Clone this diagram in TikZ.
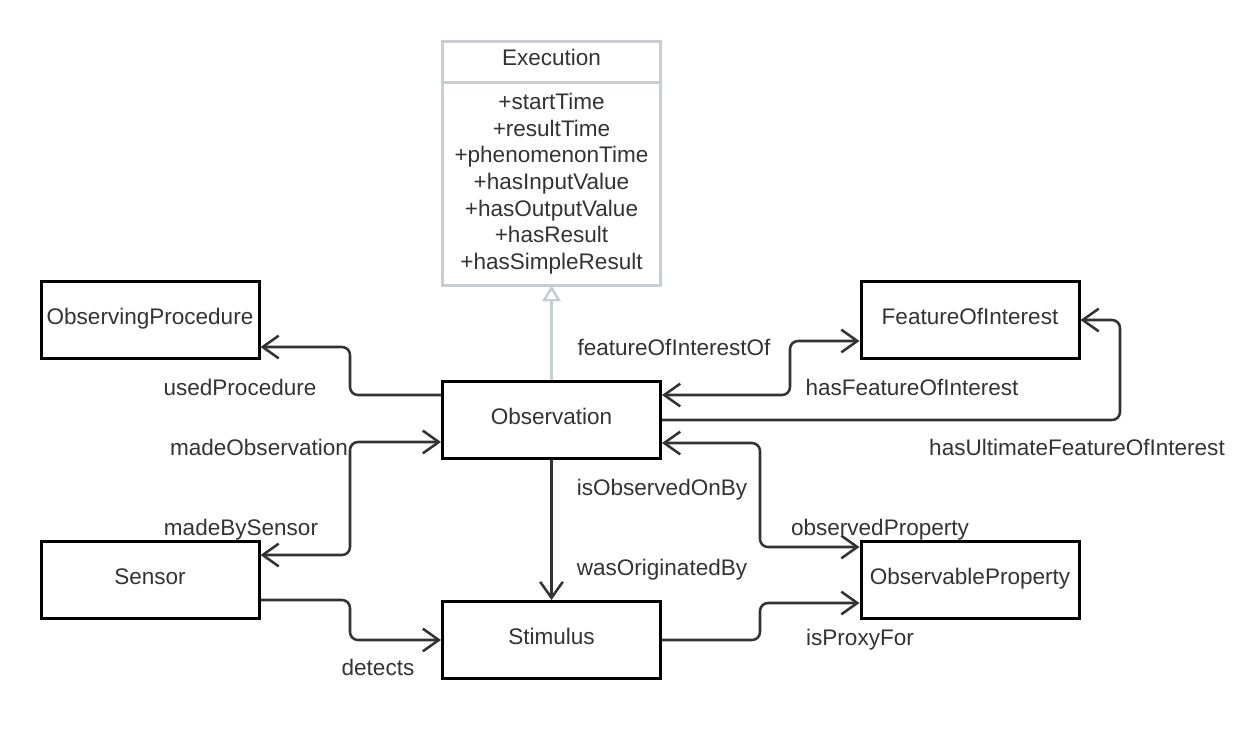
\documentclass[tikz,border=0pt]{standalone}
\usepackage{fontspec}
\setmainfont{Liberation Sans}
\usetikzlibrary{arrows.meta}
\definecolor{ink}{HTML}{333333}
\definecolor{umlgray}{HTML}{C8CDD3}

\begin{document}
\begin{tikzpicture}[x=0.75pt,y=-0.75pt,
  every node/.style={font=\fontsize{16.9}{20}\selectfont,text=ink,text height=0.72em,text depth=0.1em},
  cls/.style={draw=black,line width=2.25pt,fill=white,inner sep=0pt,minimum width=163.5pt,minimum height=57.75pt},
  umlbox/.style={draw=umlgray,line width=2.25pt,fill=white,inner sep=0pt,outer sep=0pt,minimum width=163.5pt},
  link/.style={draw=ink,line width=1.9pt,rounded corners=6pt,>={Straight Barb[length=12pt,width=17pt]}},
  lbl/.style={inner sep=0pt,yshift=-3pt}]
\fill[white] (0,0) rectangle (1240,740);
\useasboundingbox (0,0) rectangle (1240,740);

% classes
\node[umlbox,minimum height=30.4pt] (exechead) at (551.5,61.75) {Execution};
\node[umlbox,minimum height=152.6pt,align=center,text height=,text depth=] (execbody) at (551.5,183.75)
  {+startTime\\+resultTime\\+phenomenonTime\\+hasInputValue\\+hasOutputValue\\+hasResult\\+hasSimpleResult};
\node[cls] (proc) at (150,320) {ObservingProcedure};
\node[cls] (foi) at (970,320) {FeatureOfInterest};
\node[cls] (obs) at (551.5,420) {Observation};
\node[cls] (sensor) at (150,580) {Sensor};
\node[cls] (prop) at (970,580) {ObservableProperty};
\node[cls] (stim) at (551.5,640) {Stimulus};

% generalisation
\draw[umlgray,line width=1.9pt,-{Triangle[open,length=12pt,width=14pt,fill=white]}] (obs.north) -- (execbody.south);

% properties
\draw[link,->] (obs.west |- 0,395) -- (350,395) -- (350,347) -- (proc.east |- 0,347);
\draw[link,<->] (obs.east |- 0,395) -- (790,395) -- (790,341) -- (foi.west |- 0,341);
\draw[link,->] (obs.east |- 0,420) -- (1120,420) -- (1120,320) -- (foi.east |- 0,320);
\draw[link,<->] (obs.west |- 0,442) -- (350,442) -- (350,555) -- (sensor.east |- 0,555);
\draw[link,->] (sensor.east |- 0,600) -- (350,600) -- (350,640) -- (stim.west |- 0,640);
\draw[link,->] (obs.south) -- (stim.north);
\draw[link,<->] (obs.east |- 0,443) -- (760,443) -- (760,547) -- (prop.west |- 0,547);
\draw[link,->] (stim.east |- 0,640) -- (760,640) -- (760,603) -- (prop.west |- 0,603);

% labels
\node[lbl] (usedproc) at (240,387) {usedProcedure};
\node[lbl] (foiof) at (674,347) {featureOfInterestOf};
\node[lbl] (hasfoi) at (912,387) {hasFeatureOfInterest};
\node[lbl] (hasufoi) at (1077,447) {hasUltimateFeatureOfInterest};
\node[lbl] (madeobs) at (259,447) {madeObservation};
\node[lbl] (madebys) at (241,527) {madeBySensor};
\node[lbl] (detects) at (378,667) {detects};
\node[lbl] (isobs) at (662,487) {isObservedOnBy};
\node[lbl] (wasorig) at (662,567) {wasOriginatedBy};
\node[lbl] (obsprop) at (880,527) {observedProperty};
\node[lbl] (proxy) at (860,637) {isProxyFor};
\end{tikzpicture}
\end{document}
